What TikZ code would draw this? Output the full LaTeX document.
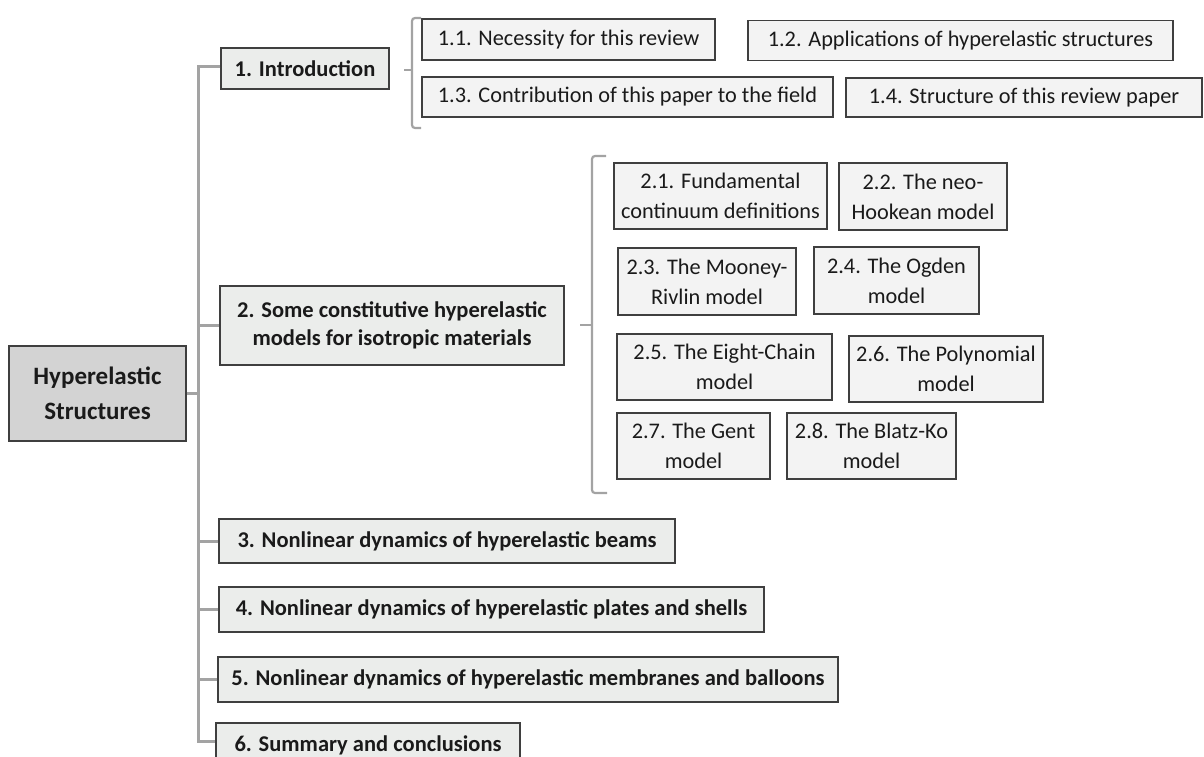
\documentclass[tikz,border=0pt]{standalone}
\usepackage{fontspec}
\setmainfont{Carlito}
\definecolor{linegray}{HTML}{A3A3A3}
\definecolor{boxborder}{HTML}{3F3F3F}
\definecolor{fillone}{HTML}{EBEDEB}
\definecolor{filltwo}{HTML}{F3F3F3}
\definecolor{fillroot}{HTML}{D3D3D3}
\definecolor{txt}{HTML}{1A1A1A}
\begin{document}
\begin{tikzpicture}[x=1pt,y=-1pt,
  basebox/.style={draw=boxborder,line width=1.4pt,inner sep=0pt,align=center,text=txt},
  rootbox/.style={basebox,fill=fillroot,font=\fontsize{25}{35}\selectfont\bfseries},
  mainbox/.style={basebox,fill=fillone,font=\fontsize{22.5}{28}\selectfont\bfseries},
  subbox/.style={basebox,fill=filltwo,font=\fontsize{22.3}{30}\selectfont},
  conn/.style={draw=linegray,line width=3pt},
  bracket/.style={draw=linegray,line width=2.2pt,rounded corners=3pt}]
\clip (0,0) rectangle (1204,757);
\useasboundingbox (0,0) rectangle (1204,757);

% root
\node[rootbox,minimum width=177,minimum height=95] (root) at (97.5,393.5) {Hyperelastic\\Structures};

% level 1
\node[mainbox,minimum width=168,minimum height=41] (intro) at (305,68.5) {1. Introduction};
\node[mainbox,minimum width=344,minimum height=79] (b2) at (392,325.5) {2. Some constitutive hyperelastic\\models for isotropic materials};
\node[mainbox,minimum width=456,minimum height=44] (b3) at (447,541) {3. Nonlinear dynamics of hyperelastic beams};
\node[mainbox,minimum width=545,minimum height=45] (b4) at (491.5,609.5) {4. Nonlinear dynamics of hyperelastic plates and shells};
\node[mainbox,minimum width=620,minimum height=45] (b5) at (528,679.5) {5. Nonlinear dynamics of hyperelastic membranes and balloons};
\node[mainbox,minimum width=304,minimum height=44] (b6) at (368,745) {6. Summary and conclusions};

% section 1 children
\node[subbox,minimum width=293,minimum height=41] (s11) at (568.5,39.5) {1.1. Necessity for this review};
\node[subbox,minimum width=425,minimum height=40] (s12) at (960.5,40.5) {1.2. Applications of hyperelastic structures};
\node[subbox,minimum width=411,minimum height=40] (s13) at (627.5,97) {1.3. Contribution of this paper to the field};
\node[subbox,minimum width=356,minimum height=39] (s14) at (1024,97.5) {1.4. Structure of this review paper};

% section 2 children
\node[subbox,minimum width=213,minimum height=66] (s21) at (720.5,196) {2.1. Fundamental\\continuum definitions};
\node[subbox,minimum width=168,minimum height=67] (s22) at (923,196.5) {2.2. The neo-\\Hookean model};
\node[subbox,minimum width=178,minimum height=67] (s23) at (707,281.5) {2.3. The Mooney-\\Rivlin model};
\node[subbox,minimum width=165,minimum height=67] (s24) at (896.5,280.5) {2.4. The Ogden\\model};
\node[subbox,minimum width=215,minimum height=66] (s25) at (724.5,367) {2.5. The Eight-Chain\\model};
\node[subbox,minimum width=194,minimum height=66] (s26) at (946,369) {2.6. The Polynomial\\model};
\node[subbox,minimum width=153,minimum height=66] (s27) at (693.5,446) {2.7. The Gent\\model};
\node[subbox,minimum width=169,minimum height=66] (s28) at (871.5,446) {2.8. The Blatz-Ko\\model};

% trunk
\coordinate (tt) at (198,67);
\coordinate (tb) at (198,741);
\draw[conn] (intro.west |- tt) -- (tt) -- (tb) -- (b6.west |- tb);
\draw[conn] (root.east) -- (root.east -| tt);
\draw[conn] (b2.west) -- (b2.west -| tt);
\draw[conn] (b3.west) -- (b3.west -| tt);
\draw[conn] (b4.west) -- (b4.west -| tt);
\draw[conn] (b5.west) -- (b5.west -| tt);

% brackets
\draw[bracket] (421,18) -- (412,18) -- (412,128) -- (421,128);
\draw[bracket,rounded corners=0pt] (404,70) -- (412,70);
\draw[bracket] (606,156) -- (592,156) -- (592,493) -- (607,493);
\draw[bracket,rounded corners=0pt] (580,325) -- (592,325);
\end{tikzpicture}
\end{document}
